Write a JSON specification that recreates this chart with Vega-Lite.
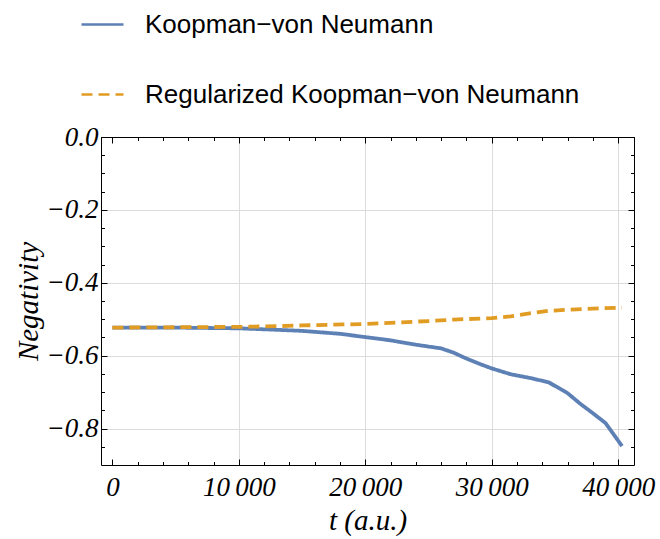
{
  "$schema": "https://vega.github.io/schema/vega-lite/v6.json",
  "width": 533,
  "height": 328,
  "autosize": {"type": "none"},
  "padding": {"left": 101, "top": 137, "right": 26, "bottom": 74},
  "background": "white",
  "config": {
    "view": {"stroke": null},
    "axis": {
      "domainColor": "black",
      "domainWidth": 1,
      "tickColor": "black",
      "tickWidth": 1,
      "labelColor": "black",
      "titleColor": "black",
      "gridColor": "#dcdcdc",
      "gridWidth": 1,
      "labelFont": "Liberation Serif",
      "labelFontStyle": "italic",
      "labelFontSize": 27,
      "titleFont": "Liberation Serif",
      "titleFontStyle": "italic",
      "titleFontWeight": "normal",
      "titleFontSize": 29
    }
  },
  "data": {
    "values": [
      {"t": 0, "v": -0.523, "series": "Koopman−von Neumann"},
      {"t": 5000, "v": -0.523, "series": "Koopman−von Neumann"},
      {"t": 10000, "v": -0.525, "series": "Koopman−von Neumann"},
      {"t": 13000, "v": -0.529, "series": "Koopman−von Neumann"},
      {"t": 15000, "v": -0.532, "series": "Koopman−von Neumann"},
      {"t": 18000, "v": -0.540, "series": "Koopman−von Neumann"},
      {"t": 20000, "v": -0.549, "series": "Koopman−von Neumann"},
      {"t": 22000, "v": -0.558, "series": "Koopman−von Neumann"},
      {"t": 24000, "v": -0.570, "series": "Koopman−von Neumann"},
      {"t": 26000, "v": -0.580, "series": "Koopman−von Neumann"},
      {"t": 27000, "v": -0.592, "series": "Koopman−von Neumann"},
      {"t": 28000, "v": -0.608, "series": "Koopman−von Neumann"},
      {"t": 29000, "v": -0.622, "series": "Koopman−von Neumann"},
      {"t": 30000, "v": -0.635, "series": "Koopman−von Neumann"},
      {"t": 31500, "v": -0.651, "series": "Koopman−von Neumann"},
      {"t": 33000, "v": -0.661, "series": "Koopman−von Neumann"},
      {"t": 34500, "v": -0.673, "series": "Koopman−von Neumann"},
      {"t": 36000, "v": -0.703, "series": "Koopman−von Neumann"},
      {"t": 37000, "v": -0.732, "series": "Koopman−von Neumann"},
      {"t": 38000, "v": -0.758, "series": "Koopman−von Neumann"},
      {"t": 39000, "v": -0.785, "series": "Koopman−von Neumann"},
      {"t": 40300, "v": -0.848, "series": "Koopman−von Neumann"},
      {"t": 0, "v": -0.523, "series": "Regularized Koopman−von Neumann"},
      {"t": 5000, "v": -0.522, "series": "Regularized Koopman−von Neumann"},
      {"t": 10000, "v": -0.521, "series": "Regularized Koopman−von Neumann"},
      {"t": 13000, "v": -0.519, "series": "Regularized Koopman−von Neumann"},
      {"t": 15000, "v": -0.517, "series": "Regularized Koopman−von Neumann"},
      {"t": 20000, "v": -0.513, "series": "Regularized Koopman−von Neumann"},
      {"t": 25000, "v": -0.505, "series": "Regularized Koopman−von Neumann"},
      {"t": 27000, "v": -0.501, "series": "Regularized Koopman−von Neumann"},
      {"t": 30000, "v": -0.497, "series": "Regularized Koopman−von Neumann"},
      {"t": 31500, "v": -0.492, "series": "Regularized Koopman−von Neumann"},
      {"t": 33000, "v": -0.484, "series": "Regularized Koopman−von Neumann"},
      {"t": 34500, "v": -0.477, "series": "Regularized Koopman−von Neumann"},
      {"t": 36000, "v": -0.474, "series": "Regularized Koopman−von Neumann"},
      {"t": 38000, "v": -0.471, "series": "Regularized Koopman−von Neumann"},
      {"t": 40300, "v": -0.468, "series": "Regularized Koopman−von Neumann"}
    ]
  },
  "resolve": {"axis": {"x": "independent", "y": "independent"}},
  "layer": [
    {
      "mark": {"type": "line", "strokeWidth": 3.8},
      "encoding": {
        "x": {
          "field": "t", "type": "quantitative",
          "scale": {"domain": [-900, 41250], "nice": false, "zero": false},
          "axis": {
            "orient": "bottom", "title": "t (a.u.)",
            "values": [0, 10000, 20000, 30000, 40000],
            "labelExpr": "replace(format(datum.value, ','), ',', '\u2009')",
            "tickSize": -6, "labelPadding": 15, "labelFlush": false, "labelOverlap": false,
            "grid": true,
            "gridOpacity": {"condition": {"test": "datum.value === 0", "value": 0}, "value": 1},
            "domain": true, "titlePadding": 6
          }
        },
        "y": {
          "field": "v", "type": "quantitative",
          "scale": {"domain": [-0.9, 0], "nice": false, "zero": false},
          "axis": {
            "orient": "left", "title": "Negativity",
            "values": [0, -0.2, -0.4, -0.6, -0.8],
            "format": ".1f",
            "tickSize": -6, "labelPadding": 9, "labelFlush": false, "labelOverlap": false,
            "grid": true, "domain": true, "titlePadding": 3
          }
        },
        "color": {
          "field": "series", "type": "nominal",
          "scale": {"domain": ["Koopman−von Neumann", "Regularized Koopman−von Neumann"], "range": ["#5E81B5", "#E19C24"]},
          "legend": {
            "title": null, "orient": "none", "legendX": -21, "legendY": -135,
            "direction": "vertical", "symbolType": "stroke", "symbolSize": 1764,
            "symbolStrokeWidth": 2.5, "labelFont": "Liberation Sans", "labelFontSize": 26,
            "labelColor": "black", "labelOffset": 20, "rowPadding": 34, "labelLimit": 700,
            "padding": 0
          }
        },
        "strokeDash": {
          "field": "series", "type": "nominal",
          "scale": {"domain": ["Koopman−von Neumann", "Regularized Koopman−von Neumann"], "range": [[1, 0], [11, 6]]}
        }
      }
    },
    {
      "mark": {"type": "point", "opacity": 0},
      "encoding": {
        "x": {
          "field": "t", "type": "quantitative",
          "scale": {"domain": [-900, 41250], "nice": false, "zero": false},
          "axis": {
            "orient": "bottom", "title": null, "labels": false, "grid": false, "domain": false,
            "values": [0, 2000, 4000, 6000, 8000, 10000, 12000, 14000, 16000, 18000, 20000, 22000, 24000, 26000, 28000, 30000, 32000, 34000, 36000, 38000, 40000],
            "tickSize": -3.5
          }
        },
        "y": {
          "field": "v", "type": "quantitative",
          "scale": {"domain": [-0.9, 0], "nice": false, "zero": false},
          "axis": {
            "orient": "left", "title": null, "labels": false, "grid": false, "domain": false,
            "values": [0, -0.05, -0.1, -0.15, -0.2, -0.25, -0.3, -0.35, -0.4, -0.45, -0.5, -0.55, -0.6, -0.65, -0.7, -0.75, -0.8, -0.85],
            "tickSize": -3.5
          }
        }
      }
    },
    {
      "mark": {"type": "point", "opacity": 0},
      "encoding": {
        "x": {
          "field": "t", "type": "quantitative",
          "scale": {"domain": [-900, 41250], "nice": false, "zero": false},
          "axis": {
            "orient": "top", "title": null, "labels": false, "grid": false, "domain": true,
            "values": [0, 10000, 20000, 30000, 40000],
            "tickSize": -6
          }
        },
        "y": {
          "field": "v", "type": "quantitative",
          "scale": {"domain": [-0.9, 0], "nice": false, "zero": false},
          "axis": {
            "orient": "right", "title": null, "labels": false, "grid": false, "domain": true,
            "values": [0, -0.2, -0.4, -0.6, -0.8],
            "tickSize": -6
          }
        }
      }
    },
    {
      "mark": {"type": "point", "opacity": 0},
      "encoding": {
        "x": {
          "field": "t", "type": "quantitative",
          "scale": {"domain": [-900, 41250], "nice": false, "zero": false},
          "axis": {
            "orient": "top", "title": null, "labels": false, "grid": false, "domain": false,
            "values": [0, 2000, 4000, 6000, 8000, 10000, 12000, 14000, 16000, 18000, 20000, 22000, 24000, 26000, 28000, 30000, 32000, 34000, 36000, 38000, 40000],
            "tickSize": -3.5
          }
        },
        "y": {
          "field": "v", "type": "quantitative",
          "scale": {"domain": [-0.9, 0], "nice": false, "zero": false},
          "axis": {
            "orient": "right", "title": null, "labels": false, "grid": false, "domain": false,
            "values": [0, -0.05, -0.1, -0.15, -0.2, -0.25, -0.3, -0.35, -0.4, -0.45, -0.5, -0.55, -0.6, -0.65, -0.7, -0.75, -0.8, -0.85],
            "tickSize": -3.5
          }
        }
      }
    }
  ]
}
